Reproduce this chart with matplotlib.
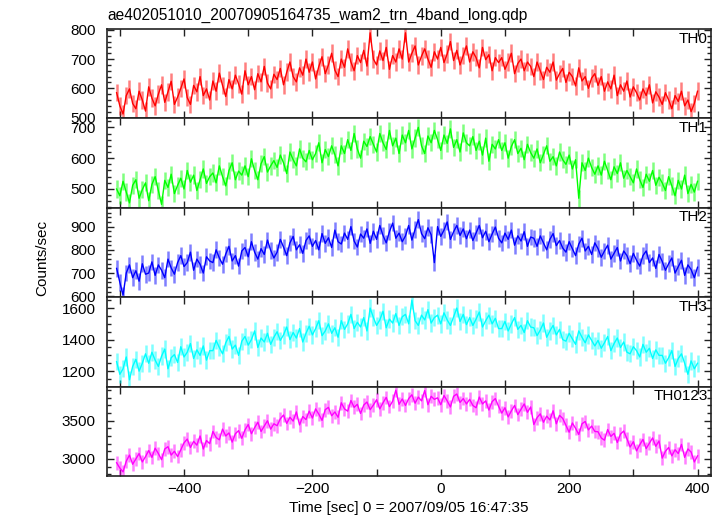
import numpy as np
import matplotlib
matplotlib.use("Agg")
import matplotlib.pyplot as plt
from matplotlib.ticker import MultipleLocator

plt.rcParams['font.family'] = ['Liberation Sans', 'DejaVu Sans']

# time bins (sec) relative to 2007/09/05 16:47:35
time = np.arange(-505, 401, 5)

th0 = [585, 540, 512, 575, 598, 548, 530, 590, 560, 522,
       605, 566, 540, 580, 612, 552, 588, 624, 545, 570,
       600, 632, 568, 545, 610, 588, 640, 575, 598, 560,
       625, 590, 652, 610, 572, 630, 598, 645, 615, 580,
       660, 612, 640, 595, 650, 622, 675, 618, 598, 648,
       630, 668, 612, 655, 690, 640, 622, 670, 645, 700,
       655, 690, 632, 675, 708, 650, 680, 720, 662, 640,
       700, 672, 735, 690, 660, 712, 688, 730, 676, 790,
       700, 680, 728, 695, 740, 665, 712, 690, 735, 700,
       790, 690, 720, 745, 680, 710, 735, 700, 672, 725,
       700, 740, 688, 718, 760, 695, 730, 680, 712, 745,
       690, 725, 705, 670, 740, 698, 715, 660, 705, 688,
       705, 665, 690, 720, 650, 685, 700, 660, 690, 675,
       640, 690, 660, 630, 672, 655, 690, 628, 650, 668,
       620, 655, 640, 608, 670, 625, 640, 600, 635, 650,
       610, 640, 590, 622, 598, 645, 575, 612, 590, 625,
       570, 605, 585, 560, 598, 575, 612, 550, 588, 570,
       545, 585, 560, 530, 575, 555, 590, 540, 560, 520,
       548, 590]

th1 = [500, 478, 525, 490, 455, 512, 530, 470, 498, 520,
       462, 515, 540, 495, 450, 528, 505, 548, 485, 512,
       535, 500, 560, 522, 545, 495, 530, 565, 518, 540,
       552, 520, 575, 540, 510, 560, 585, 530, 558, 545,
       575, 540, 598, 560, 530, 582, 605, 555, 575, 592,
       570, 610, 585, 550, 620, 595, 575, 630, 600, 588,
       625, 595, 615, 650, 585, 628, 605, 640, 612, 575,
       640, 615, 660, 625, 680, 630, 600, 655, 638, 670,
       645, 620, 680, 650, 628, 690, 640, 665, 615, 675,
       650, 690, 630, 665, 700, 640, 615, 672, 650, 690,
       660, 625, 675, 648, 695, 635, 660, 620, 682, 650,
       640, 670, 625, 655, 610, 665, 590, 645, 630, 660,
       625, 650, 600, 638, 660, 615, 632, 595, 645, 618,
       600, 630, 585, 612, 640, 590, 605, 575, 620, 595,
       580, 610, 565, 595, 470, 585, 560, 600, 570, 548,
       575, 545, 590, 560, 530, 572, 550, 585, 535, 560,
       540, 520, 565, 530, 505, 548, 525, 560, 512, 538,
       520, 495, 540, 510, 478, 528, 500, 545, 485, 515,
       490, 525]

th2 = [720, 660, 605, 700, 735, 680, 710, 665, 740, 695,
       700, 748, 690, 735, 712, 680, 760, 722, 695, 745,
       775, 728, 745, 790, 712, 760, 738, 700, 770, 752,
       745, 800, 765, 738, 782, 815, 752, 775, 730, 795,
       810, 770, 835, 790, 760, 805, 780, 842, 798, 765,
       790, 845, 812, 775, 830, 858, 800, 822, 785, 840,
       860, 815, 840, 800, 870, 828, 852, 810, 885, 835,
       825, 872, 845, 900, 838, 812, 868, 850, 890, 828,
       880, 845, 905, 862, 830, 878, 915, 850, 872, 835,
       860, 905, 842, 888, 930, 870, 848, 895, 865, 745,
       900, 858, 885, 920, 845, 878, 905, 862, 890, 848,
       885, 840, 872, 905, 852, 880, 835, 868, 898, 850,
       830, 872, 845, 885, 820, 860, 838, 878, 815, 855,
       850, 815, 860, 830, 800, 845, 870, 818, 840, 808,
       790, 835, 805, 775, 825, 850, 795, 815, 780, 830,
       805, 768, 795, 820, 760, 785, 810, 752, 795, 775,
       740, 785, 755, 730, 775, 795, 745, 765, 720, 780,
       750, 712, 740, 765, 700, 728, 755, 690, 735, 715,
       680, 725]

th3 = [1260, 1180, 1215, 1290, 1145, 1230, 1275, 1200, 1250, 1310,
       1250, 1320, 1270, 1230, 1295, 1340, 1215, 1285, 1305, 1255,
       1355, 1290, 1320, 1375, 1280, 1335, 1300, 1360, 1270, 1330,
       1330, 1395, 1350, 1310, 1380, 1420, 1340, 1365, 1300, 1390,
       1420, 1365, 1400, 1455, 1350, 1410, 1385, 1440, 1370, 1415,
       1450, 1395, 1430, 1480, 1400, 1445, 1410, 1470, 1385, 1440,
       1485, 1430, 1470, 1520, 1425, 1455, 1500, 1440, 1475, 1415,
       1520, 1465, 1500, 1560, 1470, 1510, 1480, 1540, 1455, 1600,
       1540, 1490, 1525, 1580, 1475, 1530, 1505, 1565, 1490, 1545,
       1560, 1500, 1650, 1520, 1490, 1555, 1525, 1590, 1505, 1540,
       1555, 1500, 1570, 1525, 1490, 1545, 1600, 1515, 1560, 1495,
       1540, 1490, 1530, 1575, 1480, 1520, 1555, 1500, 1535, 1470,
       1470, 1515, 1455, 1500, 1540, 1465, 1490, 1445, 1520, 1480,
       1475, 1425, 1460, 1505, 1415, 1455, 1490, 1430, 1465, 1400,
       1390, 1440, 1405, 1370, 1455, 1415, 1380, 1430, 1395, 1360,
       1395, 1345, 1380, 1420, 1330, 1375, 1410, 1350, 1385, 1320,
       1310, 1355, 1330, 1290, 1370, 1320, 1345, 1280, 1335, 1300,
       1300, 1250, 1285, 1330, 1230, 1280, 1310, 1250, 1180, 1265,
       1215, 1250]

th0123 = [2950, 2880, 2830, 2970, 3050, 2930, 3000, 3070, 2960, 3030,
          3110, 3020, 3140, 3070, 2990, 3130, 3160, 3050, 3100, 3030,
          3120, 3210, 3260, 3150, 3230, 3180, 3300, 3130, 3240, 3200,
          3360, 3280, 3250, 3390, 3300, 3340, 3220, 3330, 3370, 3270,
          3380, 3450, 3330, 3410, 3480, 3360, 3430, 3500, 3390, 3460,
          3435, 3525, 3575, 3465, 3545, 3495, 3615, 3445, 3555, 3515,
          3625, 3535, 3655, 3585, 3505, 3645, 3675, 3565, 3615, 3545,
          3735, 3655, 3625, 3765, 3675, 3715, 3595, 3705, 3745, 3645,
          3705, 3775, 3655, 3735, 3805, 3685, 3755, 3900, 3715, 3785,
          3700, 3790, 3840, 3730, 3810, 3760, 3895, 3710, 3820, 3780,
          3800, 3710, 3830, 3760, 3680, 3820, 3850, 3740, 3790, 3720,
          3780, 3700, 3670, 3810, 3720, 3760, 3640, 3750, 3790, 3690,
          3600, 3670, 3550, 3630, 3700, 3580, 3650, 3720, 3610, 3680,
          3450, 3540, 3590, 3480, 3560, 3510, 3630, 3460, 3570, 3530,
          3440, 3350, 3470, 3400, 3320, 3460, 3490, 3380, 3430, 3360,
          3355, 3275, 3245, 3385, 3295, 3335, 3215, 3325, 3365, 3265,
          3155, 3225, 3105, 3185, 3255, 3135, 3205, 3275, 3165, 3235,
          3010, 3100, 3150, 3040, 3120, 3070, 3190, 3020, 3130, 3090,
          2960, 3040]

band_names = ["TH0", "TH1", "TH2", "TH3", "TH0123"]
band_data = [th0, th1, th2, th3, th0123]
band_errors = [30, 28, 36, 55, 90]
colors = ["#ff0000", "#00ff00", "#0000ff", "#00ffff", "#ff00ff"]
ylims = [(497, 803), (439, 729), (596, 981), (1102, 1669), (2776, 3947)]
ymajor = [100, 100, 100, 200, 500]
yminor = [20, 20, 20, 50, 100]

fig = plt.figure(figsize=(7.23, 5.16), dpi=100)
gs = fig.add_gridspec(5, 1, left=107/723, right=711/723,
                      top=1 - 29/516, bottom=1 - 476/516, hspace=0)

axes = []
for i in range(5):
    ax = fig.add_subplot(gs[i], sharex=axes[0] if axes else None)
    axes.append(ax)
    y = np.array(band_data[i])
    # error bars first (lighter), then the curve on top
    ax.vlines(time, y - band_errors[i], y + band_errors[i],
              color=colors[i], alpha=0.5, lw=1.8)
    ax.plot(time, y, color=colors[i], lw=1.0)
    ax.set_ylim(*ylims[i])
    ax.yaxis.set_major_locator(MultipleLocator(ymajor[i]))
    ax.yaxis.set_minor_locator(MultipleLocator(yminor[i]))
    ax.xaxis.set_major_locator(MultipleLocator(200))
    ax.xaxis.set_minor_locator(MultipleLocator(100))
    ax.tick_params(which='both', direction='in', top=True, right=True,
                   labelsize=11, width=1.0, color='#222222')
    ax.tick_params(axis='y', which='major', length=5, pad=8)
    ax.tick_params(axis='y', which='minor', length=3)
    ax.tick_params(axis='x', which='both', length=5, pad=4)
    for sp in ax.spines.values():
        sp.set_linewidth(1.2)
        sp.set_color('#222222')
    ax.text(0.995, 0.97, band_names[i], transform=ax.transAxes,
            ha='right', va='top', fontsize=11)
    if i < 4:
        ax.tick_params(labelbottom=False)

axes[0].set_xlim(-520, 421)
axes[4].set_xlabel("Time [sec] 0 = 2007/09/05 16:47:35", fontsize=11, labelpad=4)
fig.text(42/723, 0.5, "Counts/sec", rotation=90, ha='center', va='center', fontsize=11)
fig.text(107/723, 1 - 15/516, "ae402051010_20070905164735_wam2_trn_4band_long.qdp",
         ha='left', va='center', fontsize=11.2)

fig.savefig("out.png", dpi=100)
